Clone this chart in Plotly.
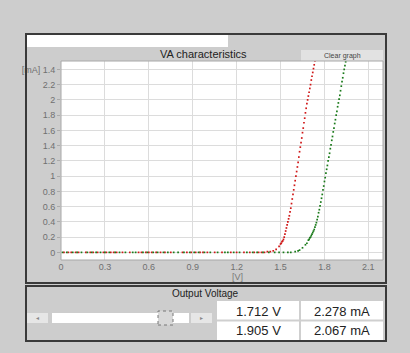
import plotly.graph_objects as go

# ---------------- data ----------------
red_v = [0.02, 0.05, 0.07, 0.10, 0.12, 0.17, 0.20, 0.22, 0.25, 0.29, 0.31, 0.34, 0.36, 0.38,
         0.42, 0.47, 0.53, 0.55, 0.58, 0.60, 0.62, 0.65, 0.68, 0.71, 0.75, 0.83, 0.86, 0.89,
         0.92, 0.95, 0.97, 1.00, 1.05, 1.10, 1.16, 1.20, 1.25, 1.29, 1.32, 1.35, 1.37, 1.39,
         1.41, 1.43, 1.45, 1.47, 1.49, 1.50, 1.505, 1.51, 1.515, 1.52, 1.525, 1.53,
         1.535, 1.54, 1.545, 1.55, 1.555, 1.56, 1.565, 1.57, 1.575, 1.58, 1.585, 1.59, 1.595,
         1.60, 1.605, 1.61, 1.615, 1.62, 1.625, 1.63, 1.635, 1.64, 1.645, 1.65, 1.655, 1.66,
         1.665, 1.67, 1.675, 1.68, 1.685, 1.69, 1.695, 1.70, 1.705, 1.71, 1.715, 1.72, 1.725,
         1.73, 1.735, 1.74]
red_i = [0.0, 0.0, 0.0, 0.0, 0.0, 0.0, 0.0, 0.0, 0.0, 0.0, 0.0, 0.0, 0.0, 0.0,
         0.0, 0.0, 0.0, 0.0, 0.0, 0.0, 0.0, 0.0, 0.0, 0.0, 0.0, 0.0, 0.0, 0.0,
         0.0, 0.0, 0.0, 0.0, 0.0, 0.0, 0.0, 0.0, 0.0, 0.0, 0.0, 0.0, 0.0, 0.0,
         0.01, 0.01, 0.02, 0.04, 0.08, 0.11, 0.12, 0.14, 0.15, 0.17, 0.20, 0.24,
         0.28, 0.32, 0.36, 0.40, 0.44, 0.48, 0.53, 0.58, 0.64, 0.70, 0.76, 0.82, 0.88,
         0.94, 1.00, 1.06, 1.12, 1.18, 1.25, 1.32, 1.38, 1.44, 1.50, 1.57, 1.63, 1.70,
         1.76, 1.83, 1.89, 1.95, 2.00, 2.05, 2.10, 2.15, 2.20, 2.26, 2.31, 2.36, 2.41,
         2.46, 2.51, 2.56]

green_v = [0.01, 0.04, 0.08, 0.11, 0.14, 0.18, 0.21, 0.24, 0.27, 0.30, 0.33, 0.37, 0.40,
           0.44, 0.49, 0.51, 0.56, 0.59, 0.63, 0.66, 0.70, 0.73, 0.77, 0.80, 0.84, 0.88, 0.91,
           0.94, 0.98, 1.02, 1.07, 1.12, 1.14, 1.18, 1.22, 1.27, 1.31, 1.34, 1.38, 1.42, 1.46,
           1.49, 1.52, 1.55, 1.57, 1.60, 1.62, 1.63, 1.65, 1.67, 1.68, 1.69,
           1.695, 1.70, 1.705, 1.71, 1.715, 1.72, 1.725, 1.73, 1.735, 1.74, 1.745, 1.75, 1.755,
           1.76, 1.765, 1.77, 1.775, 1.78, 1.785, 1.79, 1.795, 1.80, 1.805, 1.81, 1.815, 1.82,
           1.825, 1.83, 1.835, 1.84, 1.845, 1.85, 1.855, 1.86, 1.865, 1.87, 1.875, 1.88, 1.885,
           1.89, 1.895, 1.90, 1.905, 1.91, 1.915, 1.92, 1.925, 1.93, 1.935, 1.94, 1.945, 1.95]
green_i = [0.0, 0.0, 0.0, 0.0, 0.0, 0.0, 0.0, 0.0, 0.0, 0.0, 0.0, 0.0, 0.0,
           0.0, 0.0, 0.0, 0.0, 0.0, 0.0, 0.0, 0.0, 0.0, 0.0, 0.0, 0.0, 0.0, 0.0,
           0.0, 0.0, 0.0, 0.0, 0.0, 0.0, 0.0, 0.0, 0.0, 0.0, 0.0, 0.0, 0.0, 0.0,
           0.0, 0.0, 0.0, 0.0, 0.01, 0.02, 0.03, 0.06, 0.10, 0.12, 0.16,
           0.17, 0.19, 0.20, 0.22, 0.24, 0.26, 0.28, 0.30, 0.33, 0.36, 0.39, 0.43, 0.47,
           0.52, 0.56, 0.61, 0.66, 0.71, 0.76, 0.82, 0.87, 0.93, 0.98, 1.04, 1.09, 1.14,
           1.20, 1.25, 1.30, 1.36, 1.41, 1.47, 1.52, 1.58, 1.63, 1.69, 1.74, 1.80, 1.85,
           1.91, 1.96, 2.01, 2.06, 2.12, 2.18, 2.24, 2.29, 2.35, 2.40, 2.45, 2.50, 2.55]

y_ticks = [0, 0.2, 0.4, 0.6, 0.8, 1, 1.2, 1.4, 1.6, 1.8, 2, 2.2, 2.4]
y_tick_text = ["0", "0.2", "0.4", "0.6", "0.8", "1", "1.2", "1.4", "1.6", "1.8", "2", "2.2", "[mA] 1.4"]
x_ticks = [0, 0.3, 0.6, 0.9, 1.2, 1.5, 1.8, 2.1]
x_tick_text = ["0", "0.3", "0.6", "0.9", "1.2", "1.5", "1.8", "2.1"]

readings = [["1.712 V", "2.278 mA"], ["1.905 V", "2.067 mA"]]

# ---------------- layout geometry ----------------
W, H = 410, 353
L, R, T, B = 61, 27, 61, 93
PW, PH = W - L - R, H - T - B


def px(x):
    return (x - L) / PW


def py(y):
    return (H - B - y) / PH


FONT = "Liberation Sans, Arial, sans-serif"

fig = go.Figure()
fig.add_trace(go.Scatter(x=red_v, y=red_i, mode="markers",
                         marker=dict(color="#d01818", size=1.7, symbol="square"),
                         showlegend=False, hoverinfo="skip", cliponaxis=True))
fig.add_trace(go.Scatter(x=green_v, y=green_i, mode="markers",
                         marker=dict(color="#1a7a1a", size=1.7, symbol="square"),
                         showlegend=False, hoverinfo="skip", cliponaxis=True))

shapes = []


def rect(x0, y0, x1, y1, fill=None, line=None, lw=1, dash=None, layer="below"):
    d = dict(type="rect", xref="paper", yref="paper",
             x0=px(x0), x1=px(x1), y0=py(y1), y1=py(y0), layer=layer,
             line=dict(width=lw if line else 0, color=line or "rgba(0,0,0,0)"))
    if dash:
        d["line"]["dash"] = dash
    if fill:
        d["fillcolor"] = fill
    shapes.append(d)


def hline(x0, x1, y, color, lw=1):
    shapes.append(dict(type="line", xref="paper", yref="paper", x0=px(x0), x1=px(x1),
                       y0=py(y), y1=py(y), line=dict(color=color, width=lw), layer="above"))


def vline(x, y0, y1, color, lw=1):
    shapes.append(dict(type="line", xref="paper", yref="paper", x0=px(x), x1=px(x),
                       y0=py(y0), y1=py(y1), line=dict(color=color, width=lw), layer="above"))


# upper panel
rect(26, 34, 386, 283, line="#3a3a3a", lw=2, layer="above")
rect(27, 35, 228, 47, fill="#ffffff")
rect(301, 50, 383, 61, fill="#e2e2e2")
rect(61, 61, 383, 260, line="#a8a8a8", lw=1, layer="above")
# lower panel
rect(26, 286, 386, 341, line="#3a3a3a", lw=2, layer="above")
rect(217, 301, 383, 340, fill="#ffffff", layer="above")
vline(300, 301, 340, "#cfcfcf", 2)
hline(217, 383, 320.5, "#cfcfcf", 2)
# slider
rect(27, 313, 48, 323, fill="#e6e6e6", layer="above")
rect(52, 313, 189, 323, fill="#ffffff", layer="above")
rect(191, 313, 212, 323, fill="#e6e6e6", layer="above")
rect(158, 311, 173, 325, fill="#d8d8d8", line="#777777", lw=1, dash="dot", layer="above")

ann = []


def text(x, y, s, size, color="#222222", xanchor="center"):
    ann.append(dict(x=px(x), y=py(y), xref="paper", yref="paper", text=s, showarrow=False,
                    xanchor=xanchor, yanchor="middle", font=dict(size=size, color=color, family=FONT)))


text(203, 54, "VA characteristics", 11)
text(342, 56, "Clear graph", 7, "#444444")
text(237, 277, "[V]", 9, "#777777")
text(205, 293, "Output Voltage", 10)
text(37, 318, "◂", 6, "#888888")
text(201, 318, "▸", 6, "#888888")
text(258, 311, readings[0][0], 13)
text(342, 311, readings[0][1], 13)
text(258, 330, readings[1][0], 13)
text(342, 330, readings[1][1], 13)

fig.update_layout(
    width=W, height=H, margin=dict(l=L, r=R, t=T, b=B),
    paper_bgcolor="#cdcdcd", plot_bgcolor="#ffffff",
    font=dict(family=FONT, size=9, color="#777777"),
    shapes=shapes, annotations=ann, showlegend=False,
    xaxis=dict(range=[0, 2.2], tickvals=x_ticks, ticktext=x_tick_text, showgrid=True,
               gridcolor="#dcdcdc", gridwidth=1, zeroline=False, ticks="", ticklen=0,
               tickfont=dict(size=9, color="#707070"), showline=False, fixedrange=True),
    yaxis=dict(range=[-0.1, 2.51], tickvals=y_ticks, ticktext=y_tick_text, showgrid=True,
               gridcolor="#dcdcdc", gridwidth=1, zeroline=False, ticks="outside", ticklen=3,
               tickcolor="#aaaaaa", tickfont=dict(size=9, color="#707070"), showline=False,
               fixedrange=True),
)

fig.write_html("out.html", config={"displayModeBar": False},
               post_script="document.body.style.margin='0';document.body.style.background='#cdcdcd';")
